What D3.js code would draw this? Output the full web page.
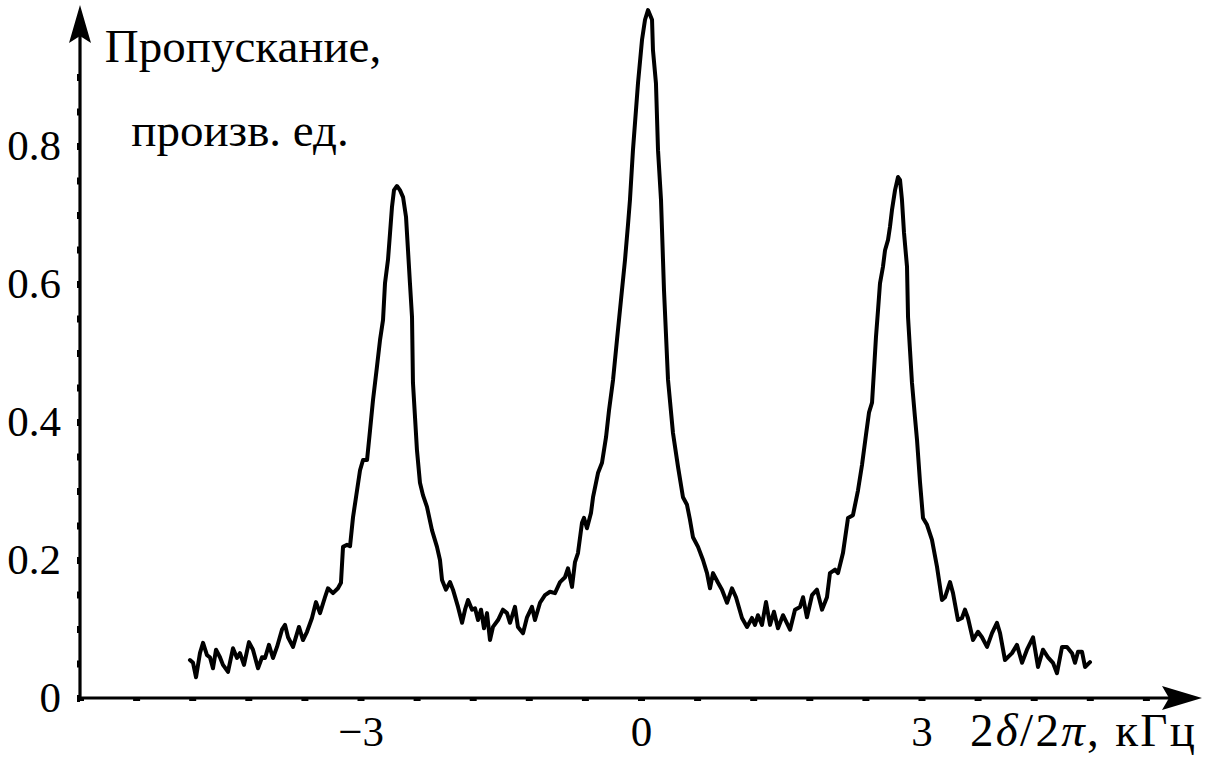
<!DOCTYPE html>
<html>
<head>
<meta charset="utf-8">
<script src="https://cdn.jsdelivr.net/npm/d3@7"></script>
<style>
  html, body { margin: 0; padding: 0; background: #fff; }
  svg { display: block; }
  text { font-family: "Liberation Serif", "DejaVu Serif", serif; fill: #000; }
</style>
</head>
<body>
<svg id="chart" width="1221" height="765"></svg>
<script>
// ---- data ----
const freq = [
-4.824,-4.791,-4.759,-4.717,-4.684,-4.642,-4.610,-4.578,-4.545,-4.503,
-4.471,-4.417,-4.364,-4.321,-4.289,-4.246,-4.193,-4.150,-4.096,-4.053,
-4.021,-3.979,-3.936,-3.893,-3.840,-3.807,-3.775,-3.722,-3.658,-3.615,
-3.572,-3.519,-3.476,-3.433,-3.380,-3.348,-3.294,-3.241,-3.209,-3.187,
-3.144,-3.112,-3.080,-3.048,-3.005,-2.973,-2.930,-2.898,-2.866,-2.824,
-2.791,-2.759,-2.738,-2.706,-2.684,-2.663,-2.642,-2.610,-2.578,-2.545,
-2.513,-2.492,-2.471,-2.449,-2.439,-2.417,-2.396,-2.364,-2.332,-2.289,
-2.235,-2.182,-2.150,-2.128,-2.086,-2.043,-2.011,-1.957,-1.914,-1.882,
-1.850,-1.807,-1.775,-1.743,-1.711,-1.679,-1.647,-1.615,-1.583,-1.529,
-1.476,-1.433,-1.401,-1.348,-1.316,-1.262,-1.219,-1.166,-1.134,-1.080,
-1.027,-0.973,-0.920,-0.866,-0.813,-0.781,-0.738,-0.706,-0.674,-0.631,
-0.610,-0.578,-0.535,-0.513,-0.460,-0.417,-0.374,-0.342,-0.299,-0.257,
-0.214,-0.171,-0.139,-0.118,-0.086,-0.032,0.011,0.043,0.075,0.118,
0.128,0.160,0.182,0.214,0.246,0.289,0.342,0.396,0.449,0.492,
0.524,0.556,0.610,0.663,0.706,0.738,0.770,0.824,0.866,0.920,
0.973,1.016,1.080,1.134,1.187,1.219,1.251,1.294,1.337,1.380,
1.422,1.465,1.519,1.594,1.647,1.701,1.733,1.775,1.829,1.882,
1.936,1.989,2.021,2.075,2.107,2.160,2.214,2.267,2.321,2.364,
2.406,2.439,2.471,2.492,2.513,2.535,2.556,2.588,2.610,2.642,
2.663,2.684,2.717,2.749,2.770,2.791,2.813,2.845,2.856,2.877,
2.898,2.930,2.952,2.984,3.016,3.059,3.112,3.166,3.219,3.251,
3.305,3.337,3.390,3.433,3.465,3.497,3.551,3.604,3.647,3.701,
3.754,3.807,3.840,3.893,3.968,4.021,4.075,4.128,4.193,4.246,
4.299,4.353,4.406,4.449,4.503,4.556,4.610,4.642,4.674,4.717,
4.749,4.802];

const transmission = [
0.055,0.051,0.030,0.065,0.080,0.062,0.059,0.043,0.070,0.059,
0.048,0.038,0.072,0.058,0.065,0.048,0.081,0.070,0.043,0.059,
0.058,0.077,0.058,0.074,0.099,0.106,0.088,0.074,0.103,0.084,
0.096,0.116,0.139,0.123,0.146,0.159,0.152,0.159,0.167,0.219,
0.222,0.220,0.262,0.291,0.330,0.345,0.345,0.388,0.432,0.480,
0.519,0.548,0.601,0.635,0.674,0.712,0.736,0.742,0.736,0.726,
0.697,0.649,0.601,0.552,0.457,0.407,0.359,0.312,0.294,0.277,
0.243,0.219,0.200,0.171,0.157,0.168,0.157,0.132,0.109,0.128,
0.142,0.128,0.130,0.113,0.128,0.101,0.123,0.084,0.103,0.113,
0.128,0.123,0.109,0.132,0.103,0.094,0.117,0.132,0.113,0.138,
0.149,0.154,0.152,0.168,0.175,0.188,0.161,0.197,0.210,0.254,
0.261,0.246,0.268,0.291,0.326,0.341,0.378,0.417,0.461,0.519,
0.577,0.635,0.686,0.722,0.794,0.891,0.954,0.983,0.997,0.983,
0.939,0.891,0.794,0.722,0.591,0.461,0.384,0.335,0.291,0.280,
0.258,0.233,0.219,0.200,0.181,0.159,0.181,0.167,0.157,0.138,
0.159,0.146,0.116,0.103,0.116,0.106,0.120,0.106,0.139,0.106,
0.125,0.101,0.120,0.099,0.128,0.132,0.146,0.117,0.149,0.157,
0.128,0.146,0.181,0.186,0.181,0.210,0.261,0.265,0.301,0.338,
0.381,0.414,0.428,0.475,0.523,0.562,0.601,0.625,0.649,0.664,
0.683,0.707,0.736,0.755,0.751,0.722,0.674,0.625,0.552,0.504,
0.457,0.407,0.374,0.313,0.261,0.251,0.229,0.190,0.142,0.146,
0.168,0.152,0.113,0.116,0.128,0.116,0.084,0.096,0.088,0.074,
0.094,0.109,0.094,0.055,0.065,0.077,0.051,0.070,0.088,0.045,
0.070,0.059,0.051,0.036,0.074,0.074,0.065,0.051,0.067,0.067,
0.045,0.052];

const xTicks = [-6,-5.4,-4.8,-4.2,-3.6,-3,-2.4,-1.8,-1.2,-0.6,0,0.6,1.2,1.8,2.4,3,3.6,4.2,4.8,5.4];
const xTickLabels = [-3, 0, 3];
const yTicks = [0,0.05,0.1,0.15,0.2,0.25,0.3,0.35,0.4,0.45,0.5,0.55,0.6,0.65,0.7,0.75,0.8,0.85,0.9];
const yTickLabels = [0, 0.2, 0.4, 0.6, 0.8];
const yTitle = ["Пропускание,", "произв. ед."];
const xTitleParts = [["2", false], ["δ", true], ["/2", false], ["π", true], [", кГц", false]];

// ---- layout ----
const svg = d3.select("#chart");
const x = d3.scaleLinear().domain([-6, 6]).range([80, 1202]);
const y = d3.scaleLinear().domain([0, 1]).range([698, 8]);
const fmtMinus = v => (v < 0 ? "\u2212" + Math.abs(v) : String(v));

// x axis ticks + labels
const xAxis = d3.axisBottom(x)
  .tickValues(xTicks)
  .tickSize(3)
  .tickPadding(14)
  .tickFormat(d => xTickLabels.some(v => Math.abs(v - d) < 1e-9) ? fmtMinus(d) : "");
const gx = svg.append("g").attr("transform", `translate(0,${y(0)})`).call(xAxis);
gx.select(".domain").remove();
gx.selectAll(".tick line").attr("stroke", "#000").attr("stroke-width", 7);
gx.selectAll(".tick text").style("font-size", "43px").attr("fill", "#000")
  .attr("font-family", "Liberation Serif, serif");

// y axis ticks + labels
const yAxis = d3.axisLeft(y)
  .tickValues(yTicks)
  .tickSize(3)
  .tickPadding(16)
  .tickFormat(d => yTickLabels.some(v => Math.abs(v - d) < 1e-9) ? (d === 0 ? "0" : d.toFixed(1)) : "");
const gy = svg.append("g").attr("transform", `translate(${x(-6)},0)`).call(yAxis);
gy.select(".domain").remove();
gy.selectAll(".tick line").attr("stroke", "#000").attr("stroke-width", 7);
gy.selectAll(".tick text").style("font-size", "43px").attr("fill", "#000")
  .attr("font-family", "Liberation Serif, serif");

// axis lines with arrows
const x0 = x(-6), y0 = y(0);
const xEnd = x(6), yEnd = y(1) - 3;
svg.append("line").attr("x1", x0 - 2).attr("y1", y0).attr("x2", xEnd - 10).attr("y2", y0)
  .attr("stroke", "#000").attr("stroke-width", 3.2);
svg.append("line").attr("x1", x0).attr("y1", y0 + 1.5).attr("x2", x0).attr("y2", yEnd + 10)
  .attr("stroke", "#000").attr("stroke-width", 3.2);
svg.append("path")
  .attr("d", `M${xEnd},${y0} L${xEnd - 40},${y0 - 12} L${xEnd - 33},${y0} L${xEnd - 40},${y0 + 12} Z`)
  .attr("fill", "#000");
svg.append("path")
  .attr("d", `M${x0},${yEnd} L${x0 - 11},${yEnd + 38} L${x0},${yEnd + 31} L${x0 + 11},${yEnd + 38} Z`)
  .attr("fill", "#000");

// data curve
const line = d3.line().x((d, i) => x(freq[i])).y(d => y(d)).curve(d3.curveLinear);
svg.append("path")
  .datum(transmission)
  .attr("d", line)
  .attr("fill", "none")
  .attr("stroke", "#000")
  .attr("stroke-width", 4)
  .attr("stroke-linejoin", "round")
  .attr("stroke-linecap", "round");

// y title
svg.append("text").attr("x", 243).attr("y", 62).attr("text-anchor", "middle")
  .style("font-size", "47px").text(yTitle[0]);
svg.append("text").attr("x", 240).attr("y", 146).attr("text-anchor", "middle")
  .style("font-size", "47px").text(yTitle[1]);

// x title
const xt = svg.append("text").attr("x", 970).attr("y", 746)
  .attr("textLength", 225).attr("lengthAdjust", "spacing")
  .style("font-size", "47px");
xTitleParts.forEach(([t, it]) => {
  xt.append("tspan").style("font-style", it ? "italic" : "normal").text(t);
});
</script>
</body>
</html>
